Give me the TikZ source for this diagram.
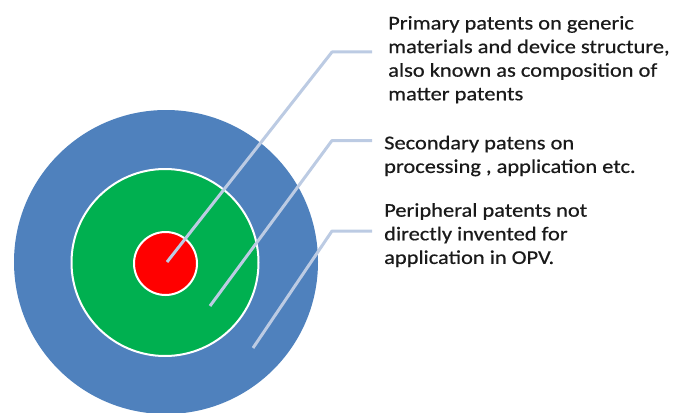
\documentclass[tikz,border=0pt]{standalone}
\usepackage{fontspec}
\setmainfont{Carlito}
\newfontfamily\labelfont[FakeStretch=1.15, FakeBold=0.6]{Carlito}
\definecolor{ringblue}{RGB}{79,129,189}
\definecolor{ringgreen}{RGB}{0,176,80}
\definecolor{corered}{RGB}{255,0,0}
\definecolor{leader}{RGB}{188,203,227}
\definecolor{labeltext}{RGB}{26,26,26}
\begin{document}
\begin{tikzpicture}[x=1pt,y=-1pt,
  ring/.style={circle, inner sep=0pt, outer sep=0pt},
  leaderline/.style={draw=leader, line width=3pt, line join=round},
  label/.style={anchor=base west, inner sep=0pt, text=labeltext,
    font=\labelfont\fontsize{19.5}{23.6}\selectfont}]
  \useasboundingbox (0,0) rectangle (674,412);

  % concentric rings
  \node[ring, fill=ringblue, minimum size=304pt] (outer) at (166,262) {};
  \node[ring, fill=ringgreen, draw=white, line width=2pt, minimum size=187pt] (middle) at (165,262.5) {};
  \node[ring, fill=corered, draw=white, line width=2pt, minimum size=63pt] (core) at (165.5,263.5) {};

  % leader anchor points
  \coordinate (s1) at (167,262);
  \coordinate (k1) at (332,52);
  \coordinate (e1) at (372,52);
  \coordinate (s2) at (210,306);
  \coordinate (k2) at (332,140.5);
  \coordinate (e2) at (372,140.5);
  \coordinate (s3) at (253,348);
  \coordinate (k3) at (332,231);
  \coordinate (e3) at (372,231);

  \draw[leaderline] (s1) -- (k1) -- (e1);
  \draw[leaderline] (s2) -- (k2) -- (e2);
  \draw[leaderline] (s3) -- (k3) -- (e3);

  % labels
  \node[label] (primary) at (388,29.5) {\parbox[t]{290pt}{\raggedright
    Primary patents on generic\\
    materials and device structure,\\
    also known as composition of\\
    matter patents}};
  \node[label] (secondary) at (384,149.3) {\parbox[t]{290pt}{\raggedright
    Secondary patens on\\
    processing , application etc.}};
  \node[label] (peripheral) at (384,216.7) {\parbox[t]{290pt}{\raggedright
    Peripheral patents not\\
    directly invented for\\
    application in OPV.}};
\end{tikzpicture}
\end{document}
